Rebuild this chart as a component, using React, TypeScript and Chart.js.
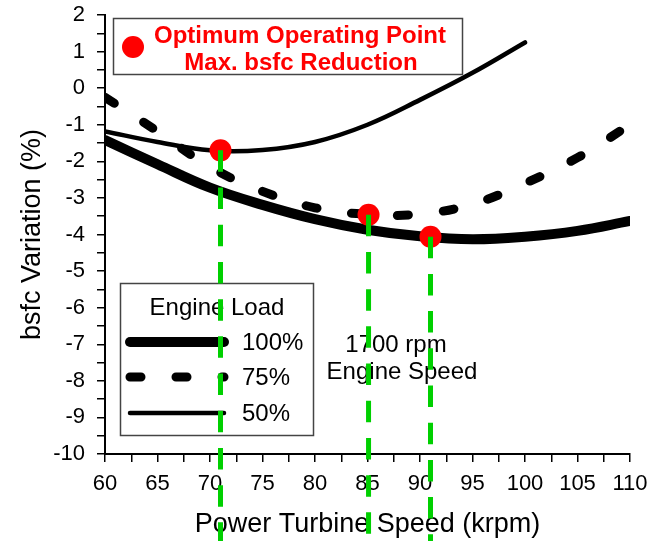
import React, { useEffect, useRef } from "react";
import { Chart, registerables } from "chart.js";

Chart.register(...registerables);

// ---- data ----
const turbineSpeeds = [60, 65, 70, 75, 80, 85, 90, 95, 100, 105, 110];
const turbineSpeeds50 = [60, 65, 70, 75, 80, 85, 90, 95, 100];
const bsfcLoad100 = [-1.42, -2.08, -2.72, -3.19, -3.58, -3.87, -4.05, -4.13, -4.06, -3.9, -3.63];
const bsfcLoad75 = [-0.25, -1.18, -2.15, -2.82, -3.27, -3.45, -3.44, -3.17, -2.6, -1.9, -1.0];
const bsfcLoad50 = [-1.18, -1.47, -1.7, -1.69, -1.47, -1.0, -0.32, 0.42, 1.25];
const optimumSpeeds = [71, 85.1, 91];
const optimumBsfc = [-1.7, -3.46, -4.06];
const loadLabels = ["100%", "75%", "50%"];
const legendTitle = "Engine Load";
const noteLines = ["Optimum Operating Point", "Max. bsfc Reduction"];
const speedNote = ["1700 rpm", "Engine Speed"];
const xTitle = "Power Turbine Speed (krpm)";
const yTitle = "bsfc Variation (%)";
const xMin = 60, xMax = 110, xStep = 2.5, xLabelEvery = 5;
const yMin = -10, yMax = 2, yStep = 0.5;

const FONT = "'Liberation Sans', Arial, Helvetica, sans-serif";
const GREEN = "#00d000";

const toPoints = (xs: number[], ys: number[]) => xs.map((x, i) => ({ x, y: ys[i] }));

const overlayPlugin = {
  id: "overlay",
  afterDraw(chart: any) {
    const ctx: CanvasRenderingContext2D = chart.ctx;
    ctx.save();

    // top annotation box
    ctx.strokeStyle = "#444";
    ctx.lineWidth = 1.5;
    ctx.setLineDash([]);
    ctx.strokeRect(113.5, 18.5, 349, 56);
    ctx.fillStyle = "#ff0000";
    ctx.beginPath();
    ctx.arc(133, 47, 11, 0, Math.PI * 2);
    ctx.fill();
    ctx.font = `bold 24px ${FONT}`;
    ctx.textAlign = "center";
    ctx.textBaseline = "middle";
    ctx.fillText(noteLines[0], 300, 36);
    ctx.fillText(noteLines[1], 301, 63);

    // engine speed note
    ctx.fillStyle = "#000";
    ctx.font = `24px ${FONT}`;
    ctx.fillText(speedNote[0], 396, 345);
    ctx.fillText(speedNote[1], 402, 372);

    // legend box
    ctx.strokeStyle = "#444";
    ctx.lineWidth = 1.5;
    ctx.strokeRect(120.5, 283.5, 193, 152);
    ctx.fillStyle = "#000";
    ctx.fillText(legendTitle, 217, 308);
    const rowsY = [342, 377, 413];
    const dsIdx = [1, 2, 3];
    ctx.textAlign = "left";
    dsIdx.forEach((di, r) => {
      const ds = chart.data.datasets[di];
      ctx.strokeStyle = ds.borderColor;
      ctx.lineWidth = ds.borderWidth;
      ctx.lineCap = "round";
      ctx.setLineDash(ds.borderDash || []);
      ctx.beginPath();
      ctx.moveTo(130, rowsY[r]);
      ctx.lineTo(224, rowsY[r]);
      ctx.stroke();
      ctx.setLineDash([]);
      ctx.fillStyle = "#000";
      ctx.fillText(loadLabels[r], 242, rowsY[r] + 1);
    });

    // green drop lines from optimum points
    const meta = chart.getDatasetMeta(0);
    ctx.strokeStyle = GREEN;
    ctx.lineWidth = 5;
    ctx.lineCap = "butt";
    ctx.setLineDash([21.5, 15.7]);
    meta.data.forEach((el: any) => {
      ctx.beginPath();
      ctx.moveTo(el.x, el.y);
      ctx.lineTo(el.x, chart.height);
      ctx.stroke();
    });
    ctx.restore();
  },
};

const zeroPad = (s: any) => {
  s.paddingTop = 0;
  s.paddingBottom = 0;
  s.paddingLeft = 0;
  s.paddingRight = 0;
};

export default function App() {
  const canvasRef = useRef<HTMLCanvasElement | null>(null);

  useEffect(() => {
    if (!canvasRef.current) return;
    Chart.defaults.font.family = FONT;
    const lineCommon = {
      borderColor: "#000",
      borderCapStyle: "round",
      borderJoinStyle: "round",
      pointRadius: 0,
      tension: 0.4,
      fill: false,
    };
    const chart = new Chart(canvasRef.current, {
      type: "line",
      data: {
        datasets: [
          {
            label: "Optimum",
            data: toPoints(optimumSpeeds, optimumBsfc),
            showLine: false,
            pointRadius: 11,
            pointHoverRadius: 11,
            pointBackgroundColor: "#ff0000",
            pointBorderWidth: 0,
            borderColor: "#ff0000",
            backgroundColor: "#ff0000",
          },
          { ...lineCommon, label: loadLabels[0], data: toPoints(turbineSpeeds, bsfcLoad100), borderWidth: 10 },
          { ...lineCommon, label: loadLabels[1], data: toPoints(turbineSpeeds, bsfcLoad75), borderWidth: 9, borderDash: [11, 35] },
          { ...lineCommon, label: loadLabels[2], data: toPoints(turbineSpeeds50, bsfcLoad50), borderWidth: 4.5 },
        ],
      },
      options: {
        responsive: false,
        animation: false,
        layout: { padding: { top: 15, right: 24, left: 0, bottom: 0 } },
        plugins: { legend: { display: false }, tooltip: { enabled: false } },
        scales: {
          x: {
            type: "linear",
            min: xMin,
            max: xMax,
            afterFit: (s: any) => {
              s.height = 87;
              zeroPad(s);
            },
            border: { display: true, color: "#000", width: 2 },
            grid: { drawOnChartArea: false, drawTicks: true, tickLength: 8, color: "#000", lineWidth: 1.5 },
            ticks: {
              stepSize: xStep,
              autoSkip: false,
              maxRotation: 0,
              padding: 9,
              color: "#000",
              font: { size: 22 },
              callback: (v: any) => (Number(v) % xLabelEvery === 0 ? String(v) : ""),
            },
            title: { display: true, text: xTitle, color: "#000", font: { size: 27 }, padding: { top: 0, bottom: 0 } },
          },
          y: {
            type: "linear",
            min: yMin,
            max: yMax,
            afterFit: (s: any) => {
              s.width = 105;
              zeroPad(s);
            },
            border: { display: true, color: "#000", width: 2 },
            grid: { drawOnChartArea: false, drawTicks: true, tickLength: 8, color: "#000", lineWidth: 1.5 },
            ticks: {
              stepSize: yStep,
              autoSkip: false,
              padding: 12,
              color: "#000",
              font: { size: 22 },
              callback: (v: any) => (Number.isInteger(Number(v)) ? String(v) : ""),
            },
            title: { display: true, text: yTitle, color: "#000", font: { size: 27 }, padding: { top: 16, bottom: 0 } },
          },
        },
      },
      plugins: [overlayPlugin],
    } as any);
    return () => chart.destroy();
  }, []);

  return (
    <div style={{ position: "fixed", left: 0, top: 0, width: 654, height: 541, background: "#fff" }}>
      <canvas ref={canvasRef} width={654} height={541} style={{ display: "block" }} />
    </div>
  );
}
